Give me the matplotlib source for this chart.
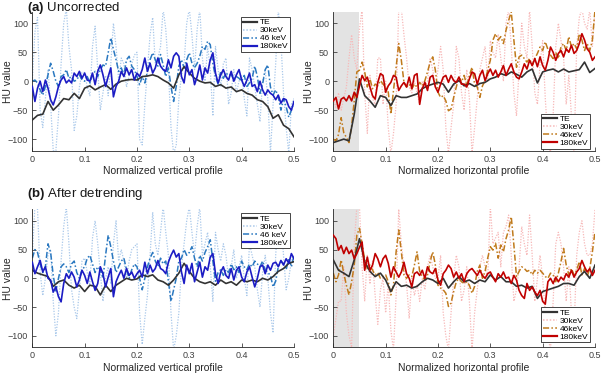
import numpy as np
import matplotlib
matplotlib.use("Agg")
import matplotlib.pyplot as plt

plt.rcParams['font.family'] = ['Liberation Sans', 'DejaVu Sans']
plt.rcParams['mathtext.fontset'] = 'custom'
plt.rcParams['mathtext.rm'] = 'Liberation Sans'
plt.rcParams['mathtext.bf'] = 'Liberation Sans:bold'

# ---------------- data ----------------
x_fine = np.linspace(0, 0.5, 101)   # sampling positions (normalized profile)
x_te = np.linspace(0, 0.5, 51)

# (a) Uncorrected - vertical profile
a_v_te = [-67, -59, -57, -35, -50, -41, -30, -32, -21, -30, -12, -8, -15, -10, -6, -14, -5, 0, 2, 3,
          2, 8, 9, 11, 8, 2, -3, -12, 11, 25, 14, 5, 0, -3, -2, -9, -6, -12, -10, -18,
          -15, -21, -24, -32, -35, -44, -64, -58, -76, -82, -96]
a_v_30 = [0, 85, 110, -50, -80, -30, 20, -40, -120, -120,
          -60, 30, 100, 125, 60, 20, -85, -60, -10, 15,
          15, -10, -25, 60, 95, 20, -50, -20, 10, -25,
          30, 100, 60, 0, 40, 30, -10, 10, 30, 45,
          50, -100, -110, -40, 20, 80, 110, 30, 40, 60,
          125, 90, 20, -80, -125, -110, -30, 10, 30, 100,
          125, 80, 20, 90, 125, 40, 0, 60, 20, -60,
          60, 20, -10, 30, 40, -40, -20, 20, -20, 0,
          10, -30, -60, 40, 20, -10, -40, -70, 0, 20,
          -30, -125, -40, 30, 125, 70, -20, -80, -125, -40,
          -30]
a_v_46 = [0, 2, -3, -15, -24, -9, 11, 31, 17, 0, -9, 8, 11, 20, 5, 8, 0, 2, 11, 2,
          0, 8, -3, 11, 17, 8, 20, 28, 26, 49, 75, 55, 37, 17, 23, 11, 37, 43, 26, 20,
          8, -6, 8, -3, 17, 37, 49, 37, 26, 46, 28,
          8, 23, -9, -35, -9, 26, 37, 23, 37, 49, 31, 23, 31, 43, 60, 55, 69, 63, 30, 8,
          -5, 17, 5, 14, 10, 12, 2, 8, 5, 0, 10, -9, -3, 5, 26, 8, -21, -5, 20, 28,
          -10, -24, -15, -27, -50, -30, -44, -62, -50, -35]
a_v_180 = [-9, -35, -12, 0, -18, 2, -12, -32, -41, -27, -9, 2, 8, -3, 2, -3, 14, 8, 17, 5,
           14, 2, 0, 14, -6, 17, 28, 11, -9, 8, 23, -27, -9, 0, 17, 8, 23, 11, 20, 2,
           14, 8, 20, 40, 17, 31, 14, 23, 40, 26, 20,
           17, 37, 23, 43, 49, 43, 8, -3, 31, 11, 20, -6, 8, 28, 2, 23, 14, 37, 49, 14,
           -3, 11, 20, 8, 2, 17, 0, 11, 20, 2, -9, 2, 14, -9, -6, -18, 0, -15, -24, -15,
           -21, -24, -32, -24, -38, -30, -32, -44, -50, -35]

# (a) Uncorrected - horizontal profile
a_h_te = [-106, -103, -100, -103, -57, 4, -25, -34, -45, -25, -28, -42, -25, -28, -28, -25, -22, -13, -8, -5,
          -2, -5, -19, -5, 1, -8, -4, -9, -4, -2, 4, 7, 13, 10, 16, 12, 7, 16, 21, -3,
          16, 19, 21, 16, 21, 16, 18, 20, 33, 15, 22]
a_h_30 = [-30, -45, -20, -50, -30, -10, 40, 80, 40, 20,
          90, 125, -20, -90, 10, -30, -40, 40, 40, -40,
          0, -80, -125, -90, -40, 125, 125, 80, 40, -10,
          -20, 0, -20, -40, 0, -10, 0, 40, 20, -10,
          20, 60, 20, -80, -125, -80, -40, 60, 40, -20,
          -50, 20, -30, -125, -80, -30, 20, 40, 60, 0,
          70, 50, 40, 80, 40, 0, 100, 125, 60, -20,
          -60, 20, 100, 60, 40, 125, 60, -20, -40, 30,
          70, -30, -100, -125, -60, 60, 100, 70, 40, -40,
          10, -60, -125, 60, 110, 125, 100, 90, 125, 60,
          125]
a_h_46 = [-100, -103, -92, -63, -89, -97, -106, -77, -34, 16,
          19, 33, 16, -10, 4, -13, -5, -8, 1, -5,
          -10, -19, -57, -16, 24, 65, 36, -2, -10, -5,
          -13, -5, -10, -2, -8, 1, 16, 33, 42, 19,
          -19, -28, -25, -34, -51, -48, -28, -10, 7, -1,
          10, -8, 10, 24, -5, -10, -28, -8, 1, 19,
          36, 71, 82, 71, 77, 65, 88, 105, 120, 71,
          24, 42, 45, 39, 33, 39, 27, 39, 48, 59,
          53, 68, 55, 45, 39, 50, 39, 59, 65, 53,
          77, 59, 65, 56, 82, 71, 53, 65, 53, 71,
          123]
a_h_180 = [-34, -28, -48, -31, -28, -34, -25, -34, -19, -28, -8, 10, 1, 7, -10, -25, -31, -2, 13, 10,
           -19, -8, -2, 10, 7, -16, -8, -2, -10, 7, -13, 10, 13, -40, -13, -2, -16, 7, 10, -10,
           -19, -5, 7, 10, -2, 10, 1, -2, 7, -5, -5,
           -10, 4, 16, 13, -5, 10, 19, 1, 13, 21, 10, 19, 7, 16, 27, 10, 21, 30, 16, 7,
           4, 16, 30, 21, 36, 27, 39, 25, 42, 27, 19, 36, 59, 50, 36, 48, 53, 42, 56, 50,
           62, 48, 53, 65, 82, 71, 56, 50, 36, 42]

# (b) After detrending - vertical profile
b_v_te = [14, 9, 6, 3, -14, -6, -3, -12, -17, -12, -23, -12, -14, -29, -12, -23, -12, -6, 0, -3,
          -1, 6, 3, 6, -3, -6, -12, -3, 9, 26, 12, 0, -6, -9, -6, -12, -3, -9, -6, -12,
          -3, -6, -3, -6, 0, -3, 3, 12, 17, 26, 29]
b_v_30 = [40, 125, 120, 10, -30, 0, 40, 50, -40, -100,
          -60, 30, 90, 125, 60, -20, -50, -70, -20, 30,
          35, 10, -10, 70, 100, 60, 10, -40, 0, 20,
          -10, 60, 100, 30, 50, 30, 0, 30, 50, 55,
          60, -60, -115, -70, -30, 40, 115, 60, 40, 80,
          125, 80, 40, -60, -125, -100, -60, 20, 60, 100,
          125, 80, 40, 90, 125, 40, 60, 80, 20, -40,
          80, 50, 30, 60, 40, 0, 20, 50, 0, 20,
          40, 0, -30, 60, 40, 20, -20, -50, 10, 40,
          0, -60, -95, 40, 110, 100, 40, -20, 0, 30,
          40]
b_v_46 = [35, 50, 45, 25, 10, 20, 60, 45, 5, -22,
          0, 20, 25, 20, 10, 25, 30, 10, 0, 15,
          20, 35, 40, 25, 10, 20, 15, 0, 40, 75,
          55, 30, 10, 20, 30, 35, 15, 0, 15, 25,
          20, 0, -20, 0, 20, 35, 45, 30, 20, 35,
          25, 30, -5, -40, -20, 0, 30, 35, 50, 40,
          45, 55, 35, 20, 40, 30, 45, 55, 67, 30,
          -5, 10, 15, 5, 15, 10, 25, 15, 20, 10,
          30, 20, 15, 25, 20, 30, 25, 20, 30, 15,
          10, 5, -15, -5, 20, 30, 25, 15, 35, 20,
          40]
b_v_180 = [28, 8, 20, 31, 11, 20, 0, -3, -24, -15, -32, -41, -9, 8, 0, 11, 2, -15, -3, 14,
           5, -9, 11, -6, -21, -9, 20, 8, -15, 2, 17, -32, -6, 5, 14, 0, 17, 5, 11, 0,
           8, 14, 2, 28, 8, 23, 11, 17, 31, 17, 14,
           8, 28, 40, 49, 37, 43, 11, -9, 23, 8, 26, -6, 11, 28, 2, 20, 14, 37, 43, 8,
           -9, 11, 20, 5, 0, 17, -3, 14, 20, 2, -6, 11, 20, 2, -15, 0, 20, 23, 8, 23,
           14, 26, 28, 20, 31, 23, 34, 26, 43, 34]

# (b) After detrending - horizontal profile
b_h_te = [32, 14, 9, 3, 32, 69, 29, 12, 3, 9, -3, -23, -6, -14, -12, -17, -14, -6, 0, -3,
          -9, 0, -17, -6, 3, -6, -3, -9, -3, -6, 6, -3, 3, -6, -6, -14, -12, -17, -14, -35,
          -23, -20, -17, -14, -9, -9, -12, 3, 12, 0, 23]
b_h_30 = [-100, -70, -40, -40, 20, -60, -100, -120, 60, 125,
          125, 20, -40, 40, -10, 30, -30, -80, -20, 0,
          -60, -10, -90, -125, -30, 120, 60, 20, -10, -70,
          0, -30, -10, -40, 0, -20, 20, 40, 20, 0,
          0, 40, -60, -100, -125, -60, 0, 40, 20, -40,
          -20, 20, -40, -125, -60, -20, 20, 40, 20, 0,
          125, 60, 70, 80, 20, 80, 90, 110, 40, -40,
          -20, 20, 90, 60, 40, 110, 40, -40, 0, 40,
          0, -60, -100, -125, -40, 60, 80, 60, 20, -40,
          20, -60, -90, 40, 80, 100, 60, 40, 40, 60,
          120]
b_h_46 = [9, -6, 6, 32, 9, -12, -29, -6, 23, 75,
          87, 60, 32, 17, 23, 14, 6, 10, 0, 3,
          6, -6, -29, -12, 46, 84, 46, 6, 0, 6,
          3, 23, 46, 12, 3, -3, 6, 29, 46, 23,
          -12, -17, -20, -26, -49, -43, -23, -6, 0, -6,
          -9, -6, -12, -26, -14, 12, 23, 0, 12, 35,
          55, 49, 61, 35, 58, 46, 69, 84, 107, 58,
          3, 12, 20, 17, 12, 14, 6, 14, 9, 14,
          9, 3, 0, 9, 6, -6, 9, 29, 52, 23,
          6, 17, 6, 14, 29, 6, 17, 3, 17, 46,
          81]
b_h_180 = [75, 69, 49, 57, 43, 54, 43, 49, 34, 43, 54, 63, 14, 37, 14, 23, 43, 34, 20, 34,
           40, 26, 2, 20, 11, 2, 11, 28, 8, 0, -15, 8, 11, 5, 14, 0, 20, 11, 8, 17,
           -3, -12, 8, 14, 23, 17, 2, 11, 0, 8, -6,
           8, 14, 17, 11, 5, 14, 5, 0, 8, 11, 2, -6, 8, 2, 11, 0, 2, -9, 5, -3,
           -21, -30, -35, -9, -21, -15, -24, -30, -21, -40, -45, -6, 0, -9, 2, -6, 2, -3, 8, 2,
           14, 2, 11, 17, 31, 20, 11, 17, 5, 14]

labels_v = ['TE', '30keV', '46 keV', '180keV']
labels_h = ['TE', '30keV', '46keV', '180keV']
xticks = [0, 0.1, 0.2, 0.3, 0.4, 0.5]
xticklabels = ['0', '0.1', '0.2', '0.3', '0.4', '0.5']
yticks = [-100, -50, 0, 50, 100]
shade_range = (0, 0.05)
title_a = r'$\mathbf{(a)}$ Uncorrected'
title_b = r'$\mathbf{(b)}$ After detrending'

# ---------------- styles ----------------
blue_cols = ['#333333', '#a9c8ea', '#2a78c0', '#1c1cc4']
red_cols = ['#333333', '#f7b8b8', '#c07a1c', '#c00000']

W, H = 602, 373
fig = plt.figure(figsize=(W / 100, H / 100), dpi=100)


def px_axes(l, t, r, b):
    return fig.add_axes([l / W, 1 - b / H, (r - l) / W, (b - t) / H])


def draw(ax, te, s30, s46, s180, cols, labels, xlabel, shade, leg_loc, leg_anchor):
    if shade:
        ax.axvspan(*shade_range, color='#e3e3e3', lw=0, zorder=0)
    h0, = ax.plot(x_te, te, color=cols[0], lw=1.2, zorder=3)
    h1, = ax.plot(x_fine, s30, color=cols[1], lw=0.9, ls=(0, (1, 1.2)), zorder=1)
    h2, = ax.plot(x_fine, s46, color=cols[2], lw=1.1, ls=(0, (4, 1.5, 1, 1.5)), zorder=2)
    h3, = ax.plot(x_fine, s180, color=cols[3], lw=1.2, zorder=4)
    ax.set_xlim(0, 0.5)
    ax.set_ylim(-120, 120)
    ax.set_xticks(xticks)
    ax.set_xticklabels(xticklabels)
    ax.set_yticks(yticks)
    for sp in ['top', 'right']:
        ax.spines[sp].set_visible(False)
    for sp in ['left', 'bottom']:
        ax.spines[sp].set_color('#262626')
        ax.spines[sp].set_linewidth(0.6)
    ax.tick_params(direction='in', length=3, width=0.6, labelsize=6.5, colors='#404040', pad=3)
    ax.set_ylabel('HU value', fontsize=7.5, color='#262626')
    ax.yaxis.set_label_coords(-0.074, 0.5)
    ax.set_xlabel(xlabel, fontsize=7.5, color='#262626', labelpad=1.5)
    leg = ax.legend([h0, h1, h2, h3], labels, loc=leg_loc, bbox_to_anchor=leg_anchor,
                    fontsize=6, frameon=True, fancybox=False, framealpha=1,
                    edgecolor='#262626', handlelength=1.7, handletextpad=0.35,
                    labelspacing=0.02, borderpad=0.2, borderaxespad=0)
    leg.get_frame().set_linewidth(0.6)
    for line in leg.get_lines():
        line.set_linewidth(1.6 if line.get_linestyle() == '-' else 1.1)


ax1 = px_axes(32.3, 11.7, 294, 150.7)
ax2 = px_axes(333.3, 11.7, 595, 150.7)
ax3 = px_axes(32.3, 209.3, 294, 347.3)
ax4 = px_axes(333.3, 209.3, 595, 347.3)

draw(ax1, a_v_te, a_v_30, a_v_46, a_v_180, blue_cols, labels_v, 'Normalized vertical profile',
     False, 'upper right', (0.985, 0.962))
draw(ax2, a_h_te, a_h_30, a_h_46, a_h_180, red_cols, labels_h, 'Normalized horizontal profile',
     True, 'lower right', (0.981, 0.012))
draw(ax3, b_v_te, b_v_30, b_v_46, b_v_180, blue_cols, labels_v, 'Normalized vertical profile',
     False, 'upper right', (0.985, 0.971))
draw(ax4, b_h_te, b_h_30, b_h_46, b_h_180, red_cols, labels_h, 'Normalized horizontal profile',
     True, 'lower right', (0.981, 0.036))

fig.text(27 / W, 1 - 10.5 / H, title_a, fontsize=9.5, va='baseline', ha='left', color='#1a1a1a')
fig.text(27 / W, 1 - 197 / H, title_b, fontsize=9.5, va='baseline', ha='left', color='#1a1a1a')
fig.savefig('out.png', dpi=100)
